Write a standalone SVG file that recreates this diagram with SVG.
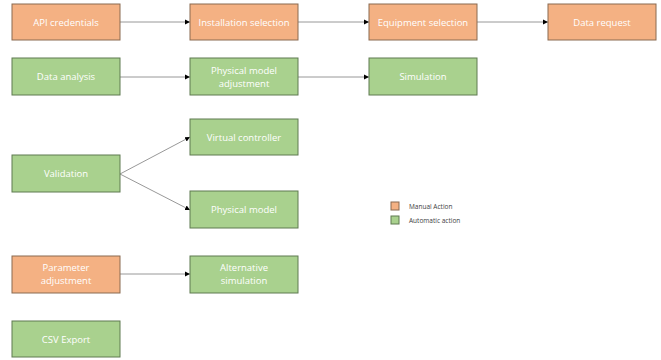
<svg xmlns="http://www.w3.org/2000/svg" width="661" height="360" viewBox="0 0 661 360">
<defs>
<style>
.m{fill:#F4B183;stroke:#8a6a50;stroke-width:1}
.a{fill:#A9D18E;stroke:#5f7a50;stroke-width:1}
.t{fill:#ffffff;font-family:"Open Sans","Liberation Sans",sans-serif;font-size:9.5px;text-anchor:middle}
.l{fill:#404040;font-family:"Open Sans","Liberation Sans",sans-serif;font-size:6.5px}
.c{stroke:#8c8c8c;stroke-width:0.9;fill:none;marker-end:url(#ah)}
</style>
<marker id="ah" markerWidth="6" markerHeight="6" refX="5" refY="3" orient="auto" markerUnits="userSpaceOnUse">
<path d="M0,0.5 L5,3 L0,5.5 Z" fill="#000"/>
</marker>
</defs>
<rect width="661" height="360" fill="#ffffff"/>
<g id="connectors">
<line class="c" x1="120" y1="22" x2="190" y2="22"/>
<line class="c" x1="298" y1="22" x2="369" y2="22"/>
<line class="c" x1="477" y1="22" x2="548" y2="22"/>
<line class="c" x1="120" y1="77" x2="190" y2="77"/>
<line class="c" x1="298" y1="77" x2="369" y2="77"/>
<line class="c" x1="120" y1="174" x2="190" y2="137"/>
<line class="c" x1="120" y1="174" x2="190" y2="210"/>
<line class="c" x1="120" y1="274" x2="190" y2="274"/>
</g>
<g id="api"><rect class="m" x="12" y="4" width="108" height="36"/><text class="t" x="66" y="25.5">API credentials</text></g>
<g id="installation"><rect class="m" x="190" y="4" width="108" height="36"/><text class="t" x="244" y="25.5">Installation selection</text></g>
<g id="equipment"><rect class="m" x="369" y="4" width="108" height="36"/><text class="t" x="423" y="25.5">Equipment selection</text></g>
<g id="datarequest"><rect class="m" x="548" y="4" width="108" height="36"/><text class="t" x="602" y="25.5">Data request</text></g>
<g id="dataanalysis"><rect class="a" x="12" y="58" width="108" height="37"/><text class="t" x="66" y="80">Data analysis</text></g>
<g id="physadj"><rect class="a" x="190" y="58" width="108" height="37"/><text class="t" x="244" y="74">Physical model</text><text class="t" x="244" y="87">adjustment</text></g>
<g id="simulation"><rect class="a" x="369" y="58" width="108" height="37"/><text class="t" x="423" y="80">Simulation</text></g>
<g id="virtual"><rect class="a" x="190" y="119" width="108" height="36"/><text class="t" x="244" y="140.5">Virtual controller</text></g>
<g id="validation"><rect class="a" x="12" y="155" width="108" height="37"/><text class="t" x="66" y="177">Validation</text></g>
<g id="physical"><rect class="a" x="190" y="191" width="108" height="37"/><text class="t" x="244" y="213">Physical model</text></g>
<g id="paramadj"><rect class="m" x="12" y="256" width="108" height="37"/><text class="t" x="66" y="271">Parameter</text><text class="t" x="66" y="284">adjustment</text></g>
<g id="altsim"><rect class="a" x="190" y="256" width="108" height="37"/><text class="t" x="244" y="271">Alternative</text><text class="t" x="244" y="284">simulation</text></g>
<g id="csv"><rect class="a" x="12" y="321" width="108" height="36"/><text class="t" x="66" y="342.5">CSV Export</text></g>
<g id="legend">
<rect class="m" x="391" y="202" width="8" height="8"/>
<text class="l" x="409" y="208.5">Manual Action</text>
<rect class="a" x="391" y="216" width="8" height="8"/>
<text class="l" x="409" y="222.5">Automatic action</text>
</g>
</svg>
